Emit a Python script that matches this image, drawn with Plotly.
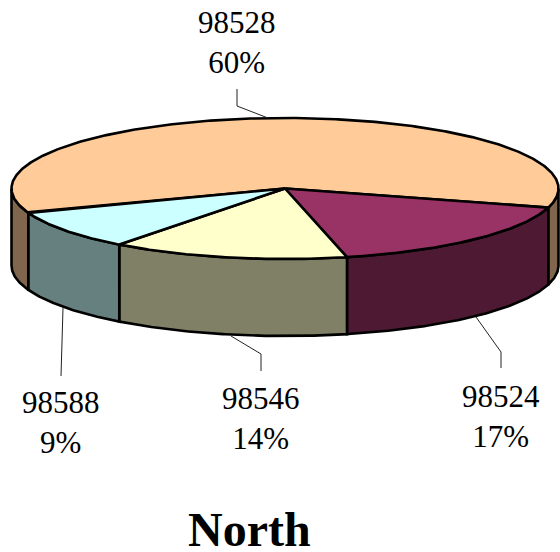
import numpy as np
import plotly.graph_objects as go

# Data
categories = ["98528", "98524", "98546", "98588"]
shares = [60, 17, 14, 9]
chart_title = "North"

# Style
top_colors = ["#FFCC99", "#993366", "#FFFFCC", "#CCFFFF"]
side_colors = ["#80664D", "#4D1933", "#808066", "#668080"]

# Layout of the tilted disc, in the 560x552 pixel frame
CX, CY, RX, RY, DEPTH = 285.0, 188.5, 273.5, 70.5, 77.0
LINE = 2.6

label_pos = [(237, 42), (501, 416), (261, 418), (61, 422)]
leaders = [
    ([237, 237, 268], [89, 106, 118]),
    ([501, 501, 476], [368, 352, 317]),
    ([261, 261, 231], [371, 354, 336]),
    ([61, 63], [376, 308]),
]

total = sum(shares)
sweeps = [s / total * 360 for s in shares]
# Maroon slice begins at 15.7 deg (clockwise on screen); peach ends there.
begin = 15.7 - sweeps[0]
edges = [begin]
for s in sweeps:
    edges.append(edges[-1] + s)


def arc(a0, a1, dy=0.0):
    t = np.radians(np.linspace(a0, a1, max(int(abs(a1 - a0)) * 2, 2) + 1))
    return CX + RX * np.cos(t), CY + dy + RY * np.sin(t)


fig = go.Figure()


def poly(x, y, fill):
    fig.add_trace(go.Scatter(
        x=list(x), y=list(y), mode="lines", fill="toself", fillcolor=fill,
        line=dict(color="black", width=LINE), hoverinfo="skip", showlegend=False))


# Walls: only the near half (0..180 deg) of the rim is visible
for i in range(len(shares)):
    a0, a1 = edges[i], edges[i + 1]
    for k in (-360, 0, 360):
        lo, hi = max(a0 + k, 0), min(a1 + k, 180)
        if hi > lo:
            x0, y0 = arc(lo, hi)
            x1, y1 = arc(hi, lo, DEPTH)
            poly(np.r_[x0, x1, x0[0]], np.r_[y0, y1, y0[0]], side_colors[i])

# Top faces
for i in range(len(shares)):
    x, y = arc(edges[i], edges[i + 1])
    poly(np.r_[CX, x, CX], np.r_[CY, y, CY], top_colors[i])

# Leader lines
for lx, ly in leaders:
    fig.add_trace(go.Scatter(x=lx, y=ly, mode="lines", line=dict(color="#222222", width=1),
                             hoverinfo="skip", showlegend=False))

annotations = [
    dict(x=p[0], y=p[1], text=f"{c}<br>{s}%", showarrow=False, xanchor="center", yanchor="middle",
         font=dict(family="Liberation Serif", size=31, color="black"))
    for c, s, p in zip(categories, shares, label_pos)
]
annotations.append(dict(x=249, y=529, text=f"<b>{chart_title}</b>", showarrow=False,
                        xanchor="center", yanchor="middle",
                        font=dict(family="Liberation Serif", size=48, color="black")))

fig.update_layout(
    width=560, height=552, margin=dict(l=0, r=0, t=0, b=0),
    paper_bgcolor="white", plot_bgcolor="white", showlegend=False,
    xaxis=dict(range=[0, 560], visible=False, fixedrange=True),
    yaxis=dict(range=[552, 0], visible=False, fixedrange=True),
    annotations=annotations,
)
fig.write_html("out.html", config=dict(displayModeBar=False),
               post_script="document.body.style.margin='0';document.body.style.overflow='hidden';")
